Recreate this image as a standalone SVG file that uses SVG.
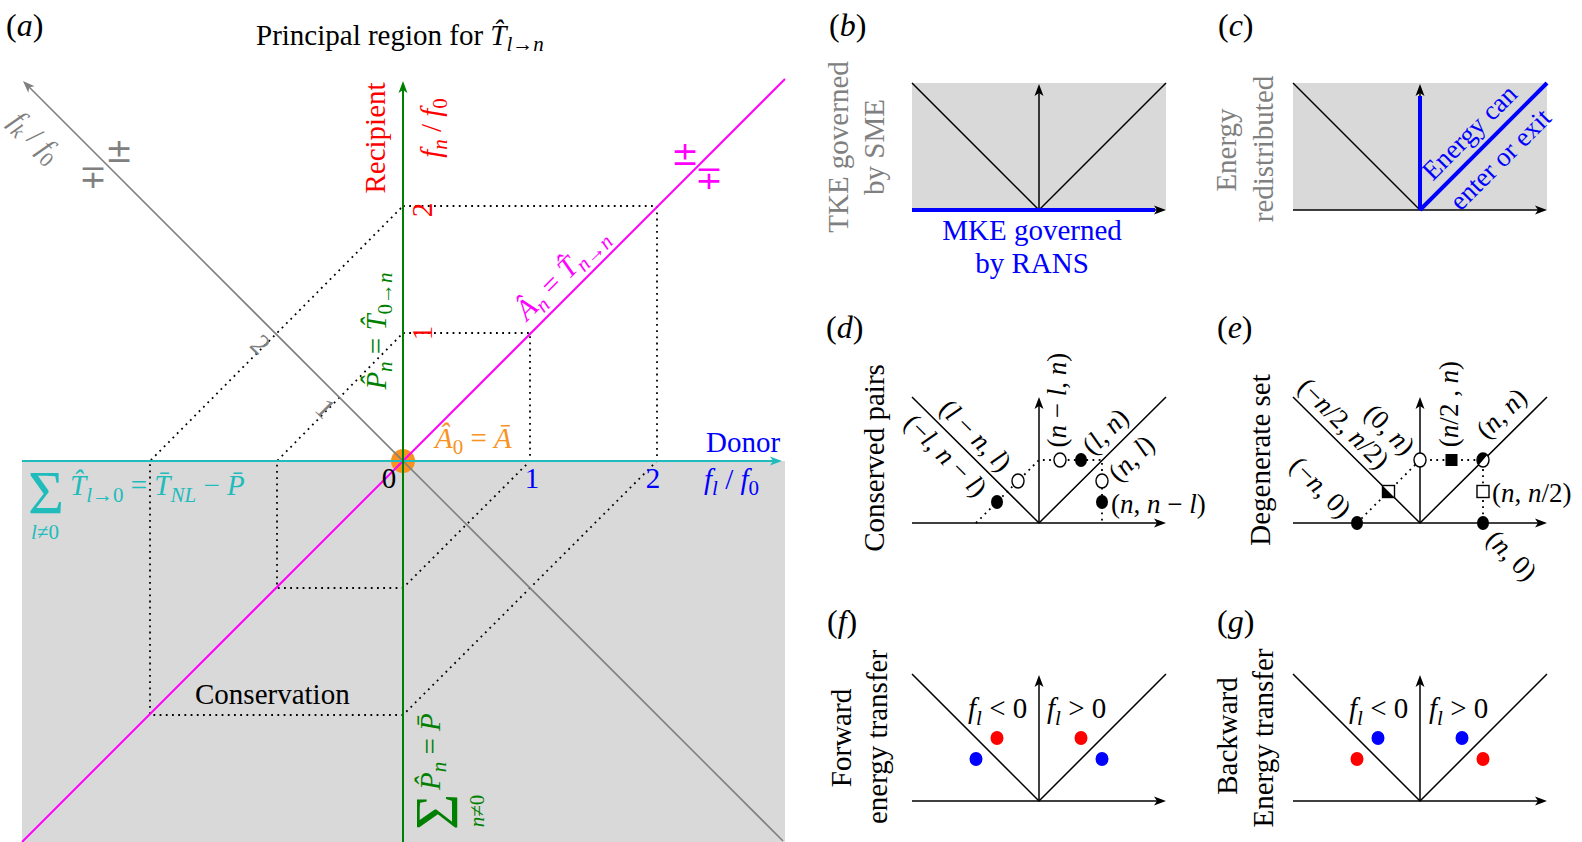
<svg xmlns="http://www.w3.org/2000/svg" width="1582" height="842" viewBox="0 0 1582 842">
<style>
text{font-family:"Liberation Serif","DejaVu Serif",serif;font-size:29px}
.i{font-style:italic}
.s{font-size:21px}
.lab{font-size:32px}
.sd{font-size:29px}
.sm{font-size:27px}
.big{font-size:62px}
.pm{font-family:"DejaVu Serif",serif;font-size:33px}
.ax{stroke:#000;stroke-width:1.5;fill:none}
.dot{stroke:#000;stroke-width:1.8;stroke-dasharray:1.8 4.4;fill:none}
.gbg{fill:#d9d9d9}
.oc{fill:#fff;stroke:#000;stroke-width:1.4}
.fc{fill:#000}
</style>
<defs>
<marker id="ak" markerUnits="userSpaceOnUse" markerWidth="16" markerHeight="12" viewBox="-11 -6 16 12" refX="0" refY="0" orient="auto"><path d="M4,0 L-8,-4.5 L-5,0 L-8,4.5 Z" fill="#000"/></marker>
<marker id="acy" markerUnits="userSpaceOnUse" markerWidth="16" markerHeight="12" viewBox="-11 -6 16 12" refX="0" refY="0" orient="auto"><path d="M4,0 L-8,-4.5 L-5,0 L-8,4.5 Z" fill="#20bcbc"/></marker>
<marker id="agn" markerUnits="userSpaceOnUse" markerWidth="16" markerHeight="12" viewBox="-11 -6 16 12" refX="0" refY="0" orient="auto"><path d="M4,0 L-8,-4.5 L-5,0 L-8,4.5 Z" fill="#008000"/></marker>
<marker id="agr" markerUnits="userSpaceOnUse" markerWidth="16" markerHeight="12" viewBox="-11 -6 16 12" refX="0" refY="0" orient="auto"><path d="M4,0 L-8,-4.5 L-5,0 L-8,4.5 Z" fill="#808080"/></marker>
</defs>

<g id="panel-a">
<rect class="gbg" x="22" y="461" width="763" height="381"/>
<path class="dot" d="M403,333 H530 V461 L403,588 H277 V461 Z"/>
<path class="dot" d="M403,206 H657 V461 L403,715 H150 V461 Z"/>
<circle cx="403" cy="461" r="12" fill="#f7931e"/>
<g id="connectors">
<line x1="22" y1="842" x2="785" y2="79" stroke="#ff00ff" stroke-width="2"/>
<line x1="783" y1="841" x2="25.8" y2="83.8" stroke="#808080" stroke-width="1.6" marker-end="url(#agr)"/>
<line x1="22" y1="461" x2="778" y2="461" stroke="#20bcbc" stroke-width="2.2" marker-end="url(#acy)"/>
<line x1="403" y1="842" x2="403" y2="85" stroke="#008000" stroke-width="2" marker-end="url(#agn)"/>
</g>
<text class="lab" x="6" y="36">(<tspan class="i">a</tspan>)</text>
<text x="256" y="45">Principal region for <tspan class="i">T̂</tspan><tspan class="s i" dy="6">l</tspan><tspan class="s">→</tspan><tspan class="s i">n</tspan></text>
<text transform="translate(385,138) rotate(-90)" text-anchor="middle" fill="#f00">Recipient</text>
<text transform="translate(441,128) rotate(-90)" text-anchor="middle" fill="#f00"><tspan class="i">f</tspan><tspan class="i s" dy="6">n</tspan><tspan dy="-6"> / </tspan><tspan class="i">f</tspan><tspan class="s" dy="6">0</tspan></text>
<text transform="translate(432,210) rotate(-90)" text-anchor="middle" fill="#f00">2</text>
<text transform="translate(432,333) rotate(-90)" text-anchor="middle" fill="#f00">1</text>
<text transform="translate(386,331) rotate(-90)" text-anchor="middle" fill="#008000"><tspan class="i">P̂</tspan><tspan class="i s" dy="6">n</tspan><tspan dy="-6"> = </tspan><tspan class="i">T̂</tspan><tspan class="s" dy="6">0→</tspan><tspan class="i s">n</tspan></text>
<text transform="translate(35,137) rotate(45)" text-anchor="middle" dy="9" fill="#808080"><tspan class="i">f</tspan><tspan class="i s" dy="6">k</tspan><tspan dy="-6"> / </tspan><tspan class="i">f</tspan><tspan class="s" dy="6">0</tspan></text>
<text transform="translate(260,345) rotate(45)" text-anchor="middle" dy="9" fill="#808080">2</text>
<text transform="translate(325,409) rotate(45)" text-anchor="middle" dy="9" fill="#808080">1</text>
<text class="pm" x="119" y="162" text-anchor="middle" fill="#808080">±</text>
<text class="pm" x="93" y="188" text-anchor="middle" fill="#808080">∓</text>
<text class="pm" x="685" y="165" text-anchor="middle" fill="#ff00ff">±</text>
<text class="pm" x="709" y="189" text-anchor="middle" fill="#ff00ff">∓</text>
<text transform="translate(562,274) rotate(-45)" text-anchor="middle" dy="9" fill="#ff00ff"><tspan class="i">Â</tspan><tspan class="i s" dy="6">n</tspan><tspan dy="-6"> = </tspan><tspan class="i">T̂</tspan><tspan class="s" dy="6"><tspan class="i">n</tspan>→<tspan class="i">n</tspan></tspan></text>
<text x="435" y="448" fill="#f7931e"><tspan class="i">Â</tspan><tspan class="s" dy="6">0</tspan><tspan dy="-6"> = </tspan><tspan class="i">Ā</tspan></text>
<text x="389" y="488" text-anchor="middle">0</text>
<text x="532" y="488" text-anchor="middle" fill="#00f">1</text>
<text x="653" y="488" text-anchor="middle" fill="#00f">2</text>
<text x="706" y="452" fill="#00f">Donor</text>
<text x="704" y="489" fill="#00f"><tspan class="i">f</tspan><tspan class="i s" dy="6">l</tspan><tspan dy="-6"> / </tspan><tspan class="i">f</tspan><tspan class="s" dy="6">0</tspan></text>
<text class="big" x="28" y="513" fill="#20bcbc">Σ</text>
<text x="70" y="495" fill="#20bcbc"><tspan class="i">T̂</tspan><tspan class="s" dy="7"><tspan class="i">l</tspan>→0</tspan><tspan dy="-7"> = </tspan><tspan class="i">T̄</tspan><tspan class="i s" dy="7">NL</tspan><tspan dy="-7"> − </tspan><tspan class="i">P̄</tspan></text>
<text x="45" y="539" text-anchor="middle" class="s" fill="#20bcbc"><tspan class="i">l</tspan>≠0</text>
<text x="195" y="704">Conservation</text>
<g transform="translate(440,830) rotate(-90)" fill="#008000">
<text class="big" x="0" y="17">Σ</text>
<text x="40" y="0"><tspan class="i">P̂</tspan><tspan class="i s" dy="6">n</tspan><tspan dy="-6"> = </tspan><tspan class="i">P̄</tspan></text>
<text x="19" y="44" class="s" text-anchor="middle"><tspan class="i">n</tspan>≠0</text>
</g>
</g>

<g id="panel-b">
<text class="lab" x="829" y="36">(<tspan class="i">b</tspan>)</text>
<rect class="gbg" x="912" y="83" width="254" height="127"/>
<path class="ax" d="M912,83 L1039,210 L1166,83"/>
<line class="ax" x1="1039" y1="210" x2="1039" y2="88" marker-end="url(#ak)"/>
<line class="ax" x1="912" y1="210" x2="1162" y2="210" marker-end="url(#ak)"/>
<line x1="912" y1="210" x2="1155" y2="210" stroke="#00f" stroke-width="4"/>
<text class="sd" transform="translate(848,147) rotate(-90)" text-anchor="middle" fill="#808080">TKE governed</text>
<text class="sd" transform="translate(884,147) rotate(-90)" text-anchor="middle" fill="#808080">by SME</text>
<text class="sd" x="1032" y="240" text-anchor="middle" fill="#00f">MKE governed</text>
<text class="sd" x="1032" y="273" text-anchor="middle" fill="#00f">by RANS</text>
</g>

<g id="panel-c">
<text class="lab" x="1218" y="36">(<tspan class="i">c</tspan>)</text>
<rect class="gbg" x="1293" y="83" width="254" height="127"/>
<line class="ax" x1="1293" y1="83" x2="1420" y2="210"/>
<line class="ax" x1="1293" y1="210" x2="1543" y2="210" marker-end="url(#ak)"/>
<line class="ax" x1="1420" y1="210" x2="1420" y2="88" marker-end="url(#ak)"/>
<line x1="1420" y1="210" x2="1420" y2="96" stroke="#00f" stroke-width="4"/>
<line x1="1420" y1="210" x2="1547" y2="83" stroke="#00f" stroke-width="4"/>
<text class="sm" transform="translate(1470,133) rotate(-45)" text-anchor="middle" dy="8" fill="#00f">Energy can</text>
<text class="sm" transform="translate(1501,160) rotate(-45)" text-anchor="middle" dy="8" fill="#00f">enter or exit</text>
<text class="sd" transform="translate(1236,150) rotate(-90)" text-anchor="middle" fill="#808080">Energy</text>
<text class="sd" transform="translate(1273,149) rotate(-90)" text-anchor="middle" fill="#808080">redistributed</text>
</g>

<g id="panel-d">
<text class="lab" x="826" y="338">(<tspan class="i">d</tspan>)</text>
<path class="ax" d="M912,397 L1039,523 L1166,397"/>
<line class="ax" x1="912" y1="523" x2="1162" y2="523" marker-end="url(#ak)"/>
<line class="ax" x1="1039" y1="523" x2="1039" y2="401" marker-end="url(#ak)"/>
<path class="dot" d="M976,523 L1039,460 H1102 V523"/>
<ellipse class="oc" cx="1060" cy="460" rx="6" ry="7"/>
<ellipse class="fc" cx="1081" cy="460" rx="6" ry="7"/>
<ellipse class="oc" cx="1102" cy="481" rx="6" ry="7"/>
<ellipse class="fc" cx="1102" cy="502" rx="6" ry="7"/>
<ellipse class="oc" cx="1018" cy="481" rx="6" ry="7"/>
<ellipse class="fc" cx="997" cy="502" rx="6" ry="7"/>
<text class="sm" transform="translate(1066,400) rotate(-90)" text-anchor="middle">(<tspan class="i">n</tspan> − <tspan class="i">l</tspan>, <tspan class="i">n</tspan>)</text>
<text class="sm" transform="translate(1106,432) rotate(-45)" text-anchor="middle" dy="8">(<tspan class="i">l</tspan>, <tspan class="i">n</tspan>)</text>
<text class="sm" transform="translate(1132,459) rotate(-45)" text-anchor="middle" dy="8">(<tspan class="i">n</tspan>, <tspan class="i">l</tspan>)</text>
<text class="sm" transform="translate(975,436) rotate(45)" text-anchor="middle" dy="8">(<tspan class="i">l</tspan> − <tspan class="i">n</tspan>, <tspan class="i">l</tspan>)</text>
<text class="sm" transform="translate(945,456) rotate(45)" text-anchor="middle" dy="8">(−<tspan class="i">l</tspan>, <tspan class="i">n</tspan> − <tspan class="i">l</tspan>)</text>
<text class="sm" x="1111" y="513">(<tspan class="i">n</tspan>, <tspan class="i">n</tspan> − <tspan class="i">l</tspan>)</text>
<text class="sd" transform="translate(884,458) rotate(-90)" text-anchor="middle">Conserved pairs</text>
</g>

<g id="panel-e">
<text class="lab" x="1217" y="338">(<tspan class="i">e</tspan>)</text>
<path class="ax" d="M1293,397 L1420,523 L1547,397"/>
<line class="ax" x1="1293" y1="523" x2="1543" y2="523" marker-end="url(#ak)"/>
<line class="ax" x1="1420" y1="523" x2="1420" y2="401" marker-end="url(#ak)"/>
<path class="dot" d="M1357,523 L1420,460 H1483 V523"/>
<ellipse class="fc" cx="1357" cy="523" rx="6" ry="7"/>
<ellipse class="fc" cx="1483" cy="523" rx="6" ry="7"/>
<ellipse class="oc" cx="1420" cy="460" rx="6" ry="7"/>
<rect class="fc" x="1445.5" y="454" width="12" height="12"/>
<rect class="oc" x="1477" y="485.5" width="12" height="12"/>
<rect class="oc" x="1382.5" y="485.5" width="12" height="12"/>
<path class="fc" d="M1382.5,485.5 L1394.5,497.5 L1382.5,497.5 Z"/>
<ellipse class="oc" cx="1483" cy="460" rx="6" ry="7"/>
<path class="fc" d="M1478.76,464.95 A6,7 0 0 1 1487.24,455.05 Z"/>
<text class="sm" transform="translate(1343,424) rotate(45)" text-anchor="middle" dy="8">(−<tspan class="i">n</tspan>/2, <tspan class="i">n</tspan>/2)</text>
<text class="sm" transform="translate(1389,430) rotate(45)" text-anchor="middle" dy="8">(0, <tspan class="i">n</tspan>)</text>
<text class="sm" transform="translate(1458,404) rotate(-90)" text-anchor="middle">(<tspan class="i">n</tspan>/2 , <tspan class="i">n</tspan>)</text>
<text class="sm" transform="translate(1502,414) rotate(-45)" text-anchor="middle" dy="8">(<tspan class="i">n</tspan>, <tspan class="i">n</tspan>)</text>
<text class="sm" x="1492" y="502">(<tspan class="i">n</tspan>, <tspan class="i">n</tspan>/2)</text>
<text class="sm" transform="translate(1320,488) rotate(45)" text-anchor="middle" dy="8">(−<tspan class="i">n</tspan>, 0)</text>
<text class="sm" transform="translate(1511,556) rotate(45)" text-anchor="middle" dy="8">(<tspan class="i">n</tspan>, 0)</text>
<text class="sd" transform="translate(1270,460) rotate(-90)" text-anchor="middle">Degenerate set</text>
</g>

<g id="panel-f">
<text class="lab" x="827" y="632">(<tspan class="i">f</tspan>)</text>
<path class="ax" d="M912,674 L1039,801 L1166,674"/>
<line class="ax" x1="912" y1="801" x2="1162" y2="801" marker-end="url(#ak)"/>
<line class="ax" x1="1039" y1="801" x2="1039" y2="679" marker-end="url(#ak)"/>
<text x="968" y="718"><tspan class="i">f</tspan><tspan class="i s" dy="7">l</tspan><tspan dy="-7"> &lt; 0</tspan></text>
<text x="1047" y="718"><tspan class="i">f</tspan><tspan class="i s" dy="7">l</tspan><tspan dy="-7"> &gt; 0</tspan></text>
<ellipse cx="997" cy="738" rx="6.5" ry="7" fill="#f00"/>
<ellipse cx="976" cy="759" rx="6.5" ry="7" fill="#00f"/>
<ellipse cx="1081" cy="738" rx="6.5" ry="7" fill="#f00"/>
<ellipse cx="1102" cy="759" rx="6.5" ry="7" fill="#00f"/>
<text class="sd" transform="translate(851,738) rotate(-90)" text-anchor="middle">Forward</text>
<text class="sd" transform="translate(887,737) rotate(-90)" text-anchor="middle">energy transfer</text>
</g>

<g id="panel-g">
<text class="lab" x="1217" y="632">(<tspan class="i">g</tspan>)</text>
<path class="ax" d="M1293,674 L1420,801 L1547,674"/>
<line class="ax" x1="1293" y1="801" x2="1543" y2="801" marker-end="url(#ak)"/>
<line class="ax" x1="1420" y1="801" x2="1420" y2="679" marker-end="url(#ak)"/>
<text x="1349" y="718"><tspan class="i">f</tspan><tspan class="i s" dy="7">l</tspan><tspan dy="-7"> &lt; 0</tspan></text>
<text x="1429" y="718"><tspan class="i">f</tspan><tspan class="i s" dy="7">l</tspan><tspan dy="-7"> &gt; 0</tspan></text>
<ellipse cx="1378" cy="738" rx="6.5" ry="7" fill="#00f"/>
<ellipse cx="1357" cy="759" rx="6.5" ry="7" fill="#f00"/>
<ellipse cx="1462" cy="738" rx="6.5" ry="7" fill="#00f"/>
<ellipse cx="1483" cy="759" rx="6.5" ry="7" fill="#f00"/>
<text class="sd" transform="translate(1237,736) rotate(-90)" text-anchor="middle">Backward</text>
<text class="sd" transform="translate(1273,738) rotate(-90)" text-anchor="middle">Energy transfer</text>
</g>
</svg>
